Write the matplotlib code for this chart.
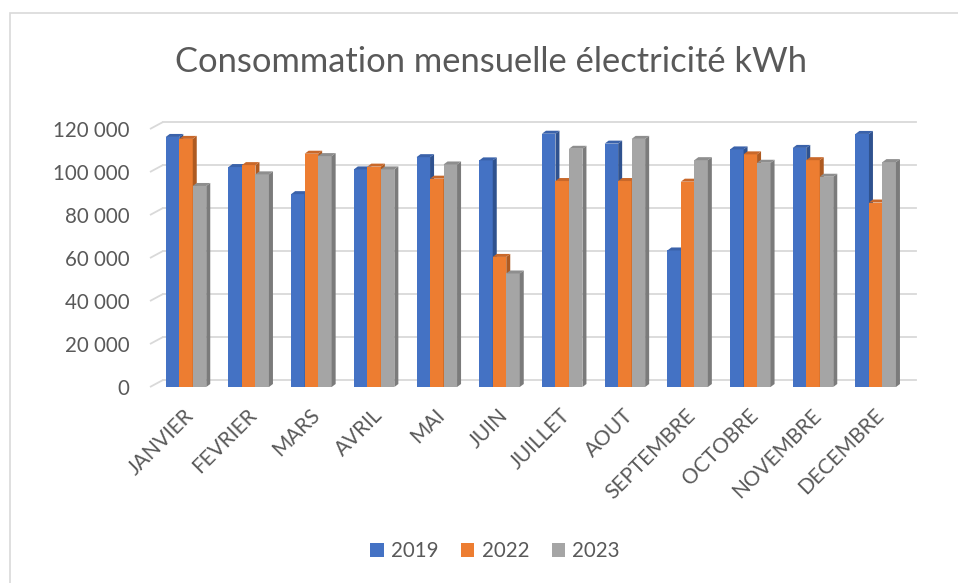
import matplotlib
matplotlib.use("Agg")
import matplotlib.pyplot as plt
from matplotlib.patches import Patch, Polygon, Rectangle
import matplotlib.transforms as mtrans
import numpy as np

months = ["JANVIER", "FEVRIER", "MARS", "AVRIL", "MAI", "JUIN", "JUILLET",
          "AOUT", "SEPTEMBRE", "OCTOBRE", "NOVEMBRE", "DECEMBRE"]
series_names = ["2019", "2022", "2023"]
v2019 = [116300, 102300, 89700, 101200, 106900, 105400, 117800, 113200, 63500, 110500, 111200, 117700]
v2022 = [115400, 103200, 108500, 102500, 96900, 60500, 95800, 95800, 95500, 108200, 105500, 85800]
v2023 = [93500, 98900, 107400, 101200, 103500, 52800, 110800, 115400, 105500, 104300, 97800, 104600]
yticks = [0, 20000, 40000, 60000, 80000, 100000, 120000]

front_colors = ["#4472C4", "#ED7D31", "#A5A5A5"]
side_colors = ["#2F528F", "#AE5A21", "#7B7B7B"]
top_colors = ["#3A62AA", "#C9682A", "#8E8E8E"]
text_color = "#595959"
grid_color = "#D9D9D9"

W, H = 958, 583
fig = plt.figure(figsize=(W / 100, H / 100), dpi=100)
plt.rcParams['font.family'] = ['Lato', 'DejaVu Sans']

# outer frame (top/left visible)
fig.patches.append(Rectangle((10 / W, -0.1), 1.2, 1.1 - 13 / H, transform=fig.transFigure,
                             fill=False, edgecolor="#D9D9D9", lw=1.2))

ax_l, ax_r, ax_b, ax_t = 150, 905, 387, 129
ax = fig.add_axes([ax_l / W, 1 - ax_b / H, (ax_r - ax_l) / W, (ax_b - ax_t) / H])
pitch_px = 62.7
x0 = -(186 - ax_l) / pitch_px
ax.set_xlim(x0, x0 + (ax_r - ax_l) / pitch_px)
ax.set_ylim(0, 120000)
for s in ax.spines.values():
    s.set_visible(False)
ax.patch.set_alpha(0)

px_x = 1 / pitch_px                    # data units per pixel (x)
px_y = 120000 / (ax_b - ax_t)          # data units per pixel (y)

# back wall gridlines with perspective offset
wall_dx, wall_dy = 13, 7
xl, xr = ax.get_xlim()
for yv in yticks:
    ax.plot([xl, xl + wall_dx * px_x], [yv, yv + wall_dy * px_y], color=grid_color, lw=1.3,
            zorder=0.5, clip_on=False, solid_capstyle='butt')
    ax.plot([xl + wall_dx * px_x, xr + (wall_dx - 2) * px_x], [yv + wall_dy * px_y] * 2,
            color=grid_color, lw=1.3, zorder=0.5, clip_on=False)

# 3D-style bars
bw = 13.5 / pitch_px
ddx, ddy = 4 * px_x, 3 * px_y
x = np.arange(len(months))
data = [v2019, v2022, v2023]
z = 2
for i in range(len(months)):
    for k, vals in enumerate(data):
        xs = x[i] + (k - 1) * bw - bw / 2
        h = vals[i]
        ax.add_patch(Rectangle((xs, 0), bw, h, facecolor=front_colors[k], edgecolor='none',
                               zorder=z, clip_on=False))
        ax.add_patch(Polygon([(xs + bw, 0), (xs + bw + ddx, ddy), (xs + bw + ddx, h + ddy),
                              (xs + bw, h)], closed=True, facecolor=side_colors[k],
                             edgecolor='none', zorder=z, clip_on=False))
        ax.add_patch(Polygon([(xs, h), (xs + ddx, h + ddy), (xs + bw + ddx, h + ddy),
                              (xs + bw, h)], closed=True, facecolor=top_colors[k],
                             edgecolor='none', zorder=z, clip_on=False))
        z += 0.01

ax.set_yticks(yticks)
ax.set_yticklabels([f"{v:,}".replace(",", " ") for v in yticks])
ax.tick_params(axis='y', length=0, pad=15, labelsize=14.8, labelcolor=text_color)
ax.set_xticks(x)
ax.set_xticklabels(months, rotation=45, ha='right', rotation_mode='anchor')
ax.tick_params(axis='x', length=0, pad=13, labelsize=15, labelcolor=text_color)
for lab in ax.get_xticklabels():
    lab.set_transform(lab.get_transform() + mtrans.ScaledTranslation(-2 / 100, 0, fig.dpi_scale_trans))

fig.text(491 / W, 1 - 62 / H, "Consommation mensuelle électricité kWh", ha='center', va='center',
         fontsize=24.8, color=text_color)

handles = [Patch(facecolor=c, edgecolor='none') for c in front_colors]
fig.legend(handles, series_names, loc='center', bbox_to_anchor=(495 / W, 1 - 551 / H), ncol=3,
           frameon=False, fontsize=14.8, labelcolor=text_color, handlelength=0.65, handleheight=0.65,
           handletextpad=0.35, columnspacing=1.1)

fig.savefig("out.png", dpi=100)
